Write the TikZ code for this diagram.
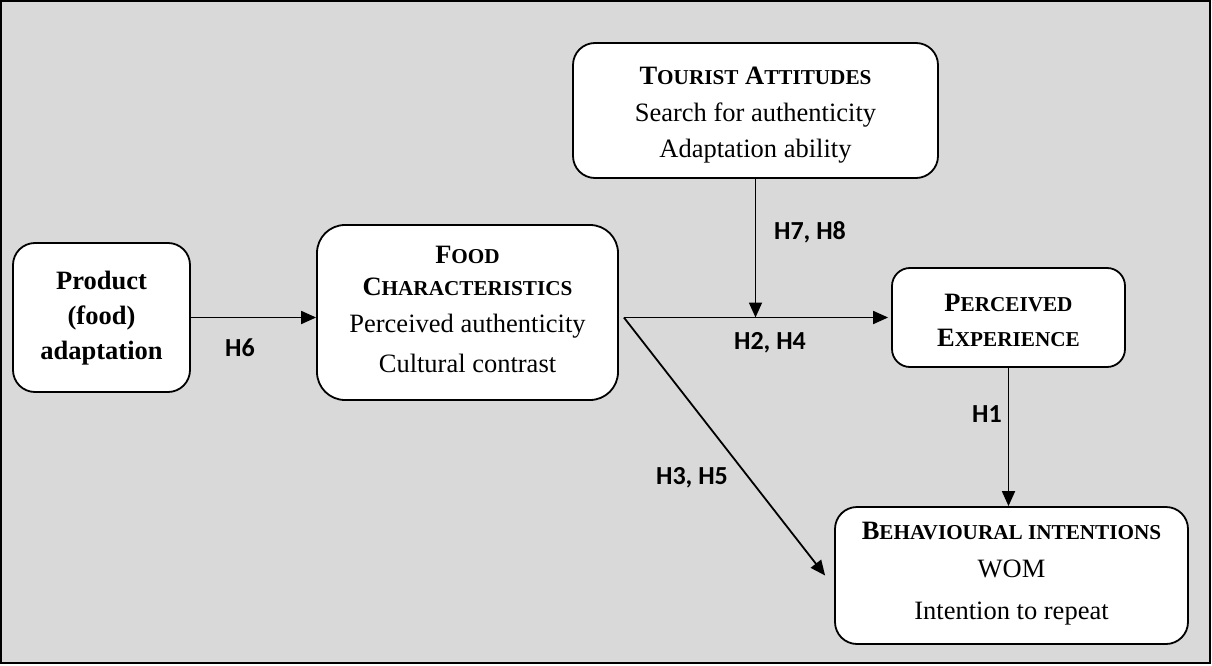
\documentclass[tikz,border=0pt]{standalone}
\usepackage{fontspec}
\setmainfont{Liberation Serif}
\newfontfamily\lblfont{Carlito}
\usetikzlibrary{arrows.meta}
\definecolor{bggray}{HTML}{D9D9D9}
\newcommand{\SmC}[2]{#1{\fontsize{21.2}{36}\selectfont #2}}
\begin{document}
\begin{tikzpicture}[x=1pt,y=-1pt,
  box/.style={draw, line width=1.8pt, fill=white, rounded corners=22pt, inner sep=0pt},
  txt/.style={align=center, inner sep=0pt, font=\fontsize{26.5}{36}\selectfont},
  arr/.style={line width=1.8pt, -{Triangle[length=15pt,width=13pt]}},
  lbl/.style={font=\lblfont\bfseries\fontsize{26}{30}\selectfont, inner sep=0pt}]
\useasboundingbox (0,0) rectangle (1212,666);
\draw[line width=2pt, fill=bggray] (1,1) rectangle (1210,663);

\node[box, minimum width=177pt, minimum height=149pt] (product) at (101.5,317.5) {};
\node[txt, font=\bfseries\fontsize{26.5}{35}\selectfont] (producttxt) at ([yshift=-1pt]product.center)
  {Product\\(food)\\adaptation};

\node[box, minimum width=301pt, minimum height=175pt, rounded corners=28pt] (food) at (467.5,312.5) {};
\node[txt] (foodtxt) at ([yshift=3pt]food.center)
  {\textbf{\SmC{F}{OOD}}\\[-4pt]\textbf{\SmC{C}{HARACTERISTICS}}\\[1pt]Perceived authenticity\\[4pt]Cultural contrast};

\node[box, minimum width=365pt, minimum height=135pt] (tourist) at (755.5,110.5) {};
\node[txt] (touristtxt) at ([yshift=-5pt]tourist.center)
  {\textbf{\SmC{T}{OURIST} \SmC{A}{TTITUDES}}\\[1pt]Search for authenticity\\Adaptation ability};

\node[box, minimum width=233pt, minimum height=99pt, rounded corners=18pt] (perceived) at (1008.5,317.5) {};
\node[txt] (perceivedtxt) at ([yshift=-3pt]perceived.center)
  {\textbf{\SmC{P}{ERCEIVED}}\\[-1pt]\textbf{\SmC{E}{XPERIENCE}}};

\node[box, minimum width=353pt, minimum height=137pt] (behav) at (1011.5,575.5) {};
\node[txt] (behavtxt) at ([yshift=2pt]behav.center)
  {\textbf{\SmC{B}{EHAVIOURAL INTENTIONS}}\\[2pt]WOM\\[6pt]Intention to repeat};

\coordinate (s) at ([xshift=5pt]food.east |- perceived.west);
\coordinate (m) at (tourist.south |- perceived.west);
\coordinate (t) at ([xshift=-9pt]behav.west);

\draw[arr] (product.east) -- (food.west |- product.east);
\draw[arr, shorten >=3pt] (s) -- (perceived.west);
\draw[arr] (tourist.south) -- (m);
\draw[arr] (perceived.south) -- (perceived.south |- behav.north);
\draw[arr] (s) -- (t);

\node[lbl] (h6) at (240,348) {H6};
\node[lbl] (h24) at (770,343) {H2, H4};
\node[lbl] (h78) at (810,232) {H7, H8};
\node[lbl] (h35) at (692,478) {H3, H5};
\node[lbl] (h1) at (987,414) {H1};
\end{tikzpicture}
\end{document}
